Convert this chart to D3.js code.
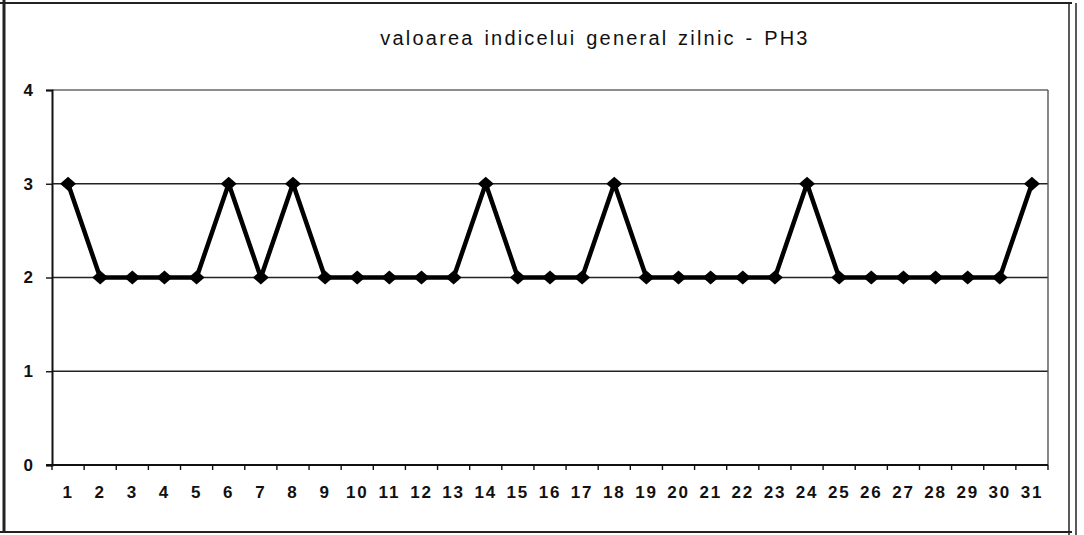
<!DOCTYPE html>
<html>
<head>
<meta charset="utf-8">
<script src="https://cdn.jsdelivr.net/npm/d3@7"></script>
<style>
  body { margin: 0; background: #fff; }
  text { font-family: Arial, "Liberation Sans", sans-serif; fill: #111; }
</style>
</head>
<body>
<div id="chart"></div>
<script>
const width = 1084;
const height = 535;
const margin = ({top: 90, right: 36, left: 52, bottom: 70});

// data
const days = d3.range(1, 32).map(String);
const values = [3, 2, 2, 2, 2, 3, 2, 3, 2, 2, 2, 2, 2, 3, 2, 2, 2, 3, 2, 2, 2, 2, 2, 3, 2, 2, 2, 2, 2, 2, 3];
const yTicks = [0, 1, 2, 3, 4];
const title = "valoarea indicelui general zilnic - PH3";

const svg = d3.select("#chart")
              .append("svg")
              .attr("width", width)
              .attr("height", height);

// outer frame of the scanned page
const frame = svg.append("g").attr("fill", "none").attr("stroke", "#222");
frame.append("line").attr("x1", 4).attr("x2", 4).attr("y1", 0).attr("y2", 533).attr("stroke-width", 3);
frame.append("line").attr("x1", 0).attr("x2", 1072).attr("y1", 3).attr("y2", 3).attr("stroke-width", 2);
frame.append("line").attr("x1", 0).attr("x2", 1072).attr("y1", 532).attr("y2", 532).attr("stroke-width", 2);
frame.append("line").attr("x1", 1069).attr("x2", 1069).attr("y1", 3).attr("y2", 535).attr("stroke-width", 1.5);
frame.append("line").attr("x1", 1076).attr("x2", 1076).attr("y1", 3).attr("y2", 535).attr("stroke-width", 1.5);

const x = d3.scaleBand()
            .domain(days)
            .range([margin.left, width - margin.right]);

const y = d3.scaleLinear()
            .domain([0, 4])
            .range([height - margin.bottom, margin.top]);

// gridlines
svg.append("g")
   .selectAll("line")
   .data(yTicks.filter(d => d > 0))
   .join("line")
   .attr("x1", margin.left)
   .attr("x2", width - margin.right)
   .attr("y1", d => y(d))
   .attr("y2", d => y(d))
   .attr("stroke", d => d === 4 ? "#666" : "#222")
   .attr("stroke-width", d => d === 4 ? 1.6 : 1.3);

// right border of plot area
svg.append("line")
   .attr("x1", width - margin.right).attr("x2", width - margin.right)
   .attr("y1", y(4)).attr("y2", y(0))
   .attr("stroke", "#555").attr("stroke-width", 1.4);

// y axis
svg.append("g")
   .attr("transform", `translate(${margin.left},0)`)
   .call(d3.axisLeft(y).tickValues(yTicks).tickSize(6).tickPadding(13).tickFormat(d3.format("d")))
   .call(g => g.select(".domain").attr("stroke", "#111").attr("stroke-width", 2))
   .call(g => g.selectAll(".tick line").attr("stroke", "#111").attr("stroke-width", 1.4))
   .call(g => g.selectAll(".tick text").attr("font-size", 17).attr("fill", "#111").attr("font-weight", 600));

// x axis, ticks at category boundaries
const xAxis = svg.append("g")
   .attr("transform", `translate(0,${y(0)})`);
xAxis.append("line")
   .attr("x1", margin.left - 6).attr("x2", width - margin.right)
   .attr("stroke", "#111").attr("stroke-width", 2);
xAxis.selectAll(".bound")
   .data(days.concat(["end"]))
   .join("line")
   .attr("class", "bound")
   .attr("x1", (d, i) => margin.left + i * x.step())
   .attr("x2", (d, i) => margin.left + i * x.step())
   .attr("y1", 0).attr("y2", 5)
   .attr("stroke", "#111").attr("stroke-width", 1.4);
xAxis.selectAll("text")
   .data(days)
   .join("text")
   .attr("x", d => x(d) + x.bandwidth() / 2)
   .attr("y", 33)
   .attr("text-anchor", "middle")
   .attr("font-size", 17)
   .attr("letter-spacing", 1.8)
   .attr("font-weight", 600)
   .text(d => d);

// series line
const line = d3.line()
               .x((d, i) => x(days[i]) + x.bandwidth() / 2)
               .y(d => y(d));

svg.append("path")
   .datum(values)
   .attr("fill", "none")
   .attr("stroke", "#000")
   .attr("stroke-width", 4.5)
   .attr("stroke-linejoin", "round")
   .attr("d", line);

svg.append("g")
   .selectAll("path")
   .data(values)
   .join("path")
   .attr("transform", (d, i) => `translate(${x(days[i]) + x.bandwidth() / 2},${y(d)})`)
   .attr("d", "M0,-7L8,0L0,7L-8,0Z")
   .attr("fill", "#000");

// title
svg.append("text")
   .attr("x", 595)
   .attr("y", 45)
   .attr("text-anchor", "middle")
   .attr("font-size", 20)
   .attr("letter-spacing", 2.2)
   .attr("word-spacing", 2)
   .text(title);
</script>
</body>
</html>
